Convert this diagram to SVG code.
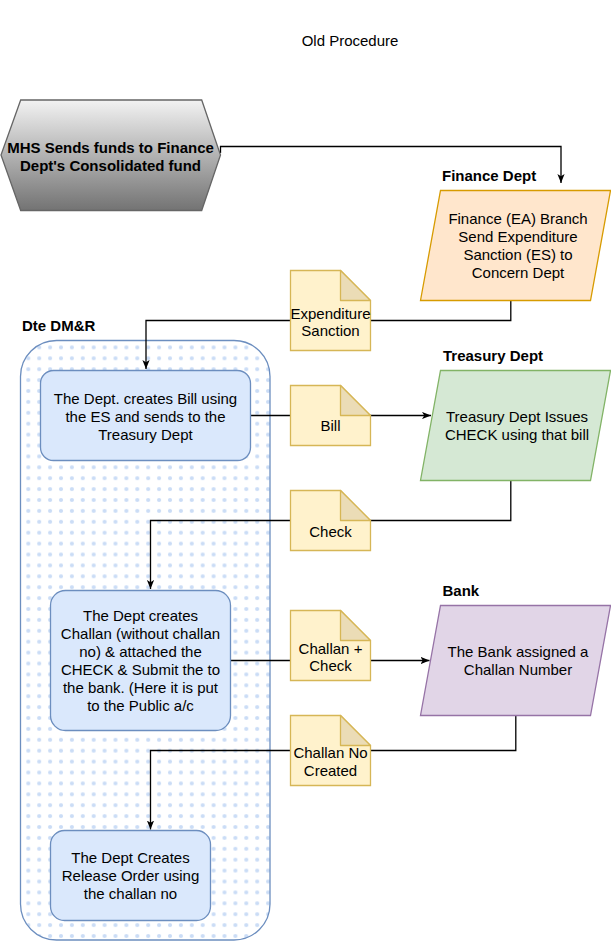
<svg xmlns="http://www.w3.org/2000/svg" width="611" height="941" viewBox="0 0 611 941">
<style>
text{font-family:"Liberation Sans",Arial,Helvetica,sans-serif;font-size:15px;fill:#000;}
.c{text-anchor:middle;}
.b{font-weight:bold;}
.conn{fill:none;stroke:#000;stroke-width:1.3;}
.note{fill:#fff2cc;stroke:#d6b656;stroke-width:1.3;}
.fold{fill:#ebdcb6;stroke:#d6b656;stroke-width:1.3;stroke-linejoin:round;}
.proc{fill:#dae8fc;stroke:#6c8ebf;stroke-width:1.3;}
</style>
<defs>
<linearGradient id="hexg" x1="0" y1="0" x2="0" y2="1">
<stop offset="0" stop-color="#f2f2f2"/>
<stop offset="1" stop-color="#737373"/>
</linearGradient>
<pattern id="dots" patternUnits="userSpaceOnUse" x="6.5" y="9.5" width="10.9" height="10.9">
<circle cx="0" cy="0" r="2.1" fill="#cadcf6"/>
<circle cx="10.9" cy="0" r="2.1" fill="#cadcf6"/>
<circle cx="0" cy="10.9" r="2.1" fill="#cadcf6"/>
<circle cx="10.9" cy="10.9" r="2.1" fill="#cadcf6"/>
</pattern>
<marker id="arr" markerUnits="userSpaceOnUse" viewBox="0 0 10 8" markerWidth="9" markerHeight="7.2" refX="10" refY="4" orient="auto">
<path d="M0,0 L10,4 L0,8 L2.5,4 Z" fill="#000"/>
</marker>
</defs>
<rect width="611" height="941" fill="#fff"/>
<text class="c" x="350" y="46">Old Procedure</text>

<g id="container-dte">
<rect x="20.5" y="340.5" width="249.5" height="599.5" rx="36" ry="36" fill="#fff"/>
<rect x="20.5" y="340.5" width="249.5" height="599.5" rx="36" ry="36" fill="url(#dots)" stroke="#6c8ebf" stroke-width="1.3"/>
<text class="b" x="22" y="331">Dte DM&amp;R</text>
</g>

<g id="connectors">
<path class="conn" d="M220.5,153 V146.5 H561 V183" marker-end="url(#arr)"/>
<path class="conn" d="M510.8,300 V320.5 H146 V369" marker-end="url(#arr)"/>
<path class="conn" d="M250.5,415.5 H431" marker-end="url(#arr)"/>
<path class="conn" d="M510.8,480 V520.5 H150.5 V589" marker-end="url(#arr)"/>
<path class="conn" d="M230.5,660.5 H429.5" marker-end="url(#arr)"/>
<path class="conn" d="M515.8,715 V750.5 H150.5 V829.5" marker-end="url(#arr)"/>
</g>

<g id="mhs">
<polygon points="20.7,100 201.7,100 220.5,155 201.7,210.5 20.7,210.5 1,155" fill="url(#hexg)" stroke="#666" stroke-width="1.3"/>
<text class="c b" x="110.5" y="152.5">MHS Sends funds to Finance</text>
<text class="c b" x="110.5" y="170.5">Dept's Consolidated fund</text>
</g>

<g id="finance">
<text class="b" x="442" y="181">Finance Dept</text>
<polygon points="440.5,190.5 610.5,190.5 590.5,300.5 420.5,300.5" fill="#ffe6cc" stroke="#d79b00" stroke-width="1.3"/>
<text class="c" x="518" y="224">Finance (EA) Branch</text>
<text class="c" x="518" y="242">Send Expenditure</text>
<text class="c" x="518" y="260">Sanction (ES) to</text>
<text class="c" x="518" y="278">Concern Dept</text>
</g>

<g id="note-es">
<path class="note" d="M290.5,270.5 H340.5 L370.5,300.5 V350.5 H290.5 Z"/>
<path class="fold" d="M340.5,270.5 V300.5 H370.5 Z"/>
<text class="c" x="330.5" y="318.5">Expenditure</text>
<text class="c" x="330.5" y="336">Sanction</text>
</g>

<g id="bill-proc">
<rect class="proc" x="40.5" y="370.5" width="210" height="90" rx="13" ry="13"/>
<text class="c" x="145.5" y="403.5">The Dept. creates Bill using</text>
<text class="c" x="145.5" y="421.5">the ES and sends to the</text>
<text class="c" x="145.5" y="439.5">Treasury Dept</text>
</g>

<g id="note-bill">
<path class="note" d="M290.5,385.5 H340.5 L370.5,415.5 V445.5 H290.5 Z"/>
<path class="fold" d="M340.5,385.5 V415.5 H370.5 Z"/>
<text class="c" x="330.5" y="431">Bill</text>
</g>

<g id="treasury">
<text class="b" x="443" y="361">Treasury Dept</text>
<polygon points="440.5,370.5 610.5,370.5 590.5,480.5 420.5,480.5" fill="#d5e8d4" stroke="#82b366" stroke-width="1.3"/>
<text class="c" x="517" y="422">Treasury Dept Issues</text>
<text class="c" x="517" y="440">CHECK using that bill</text>
</g>

<g id="note-check">
<path class="note" d="M290.5,490.5 H340.5 L370.5,520.5 V550.5 H290.5 Z"/>
<path class="fold" d="M340.5,490.5 V520.5 H370.5 Z"/>
<text class="c" x="330.5" y="537">Check</text>
</g>

<g id="challan-proc">
<rect class="proc" x="50.5" y="590.5" width="180" height="140" rx="15" ry="15"/>
<text class="c" x="140.5" y="621">The Dept creates</text>
<text class="c" x="140.5" y="639">Challan (without challan</text>
<text class="c" x="140.5" y="657">no) &amp; attached the</text>
<text class="c" x="140.5" y="675">CHECK &amp; Submit the to</text>
<text class="c" x="140.5" y="693">the bank. (Here it is put</text>
<text class="c" x="140.5" y="711">to the Public a/c</text>
</g>

<g id="note-challan-check">
<path class="note" d="M290.5,610.5 H340.5 L370.5,640.5 V680.5 H290.5 Z"/>
<path class="fold" d="M340.5,610.5 V640.5 H370.5 Z"/>
<text class="c" x="330.5" y="653.5">Challan +</text>
<text class="c" x="330.5" y="671">Check</text>
</g>

<g id="bank">
<text class="b" x="442.5" y="596">Bank</text>
<polygon points="440.5,605.5 610.5,605.5 590.5,715.5 420.5,715.5" fill="#e1d5e7" stroke="#9673a6" stroke-width="1.3"/>
<text class="c" x="518" y="657">The Bank assigned a</text>
<text class="c" x="518" y="674.5">Challan Number</text>
</g>

<g id="note-challan-no">
<path class="note" d="M290.5,715.5 H340.5 L370.5,745.5 V785.5 H290.5 Z"/>
<path class="fold" d="M340.5,715.5 V745.5 H370.5 Z"/>
<text class="c" x="330.5" y="758">Challan No</text>
<text class="c" x="330.5" y="776">Created</text>
</g>

<g id="release-proc">
<rect class="proc" x="50.5" y="830.5" width="160" height="90" rx="14" ry="14"/>
<text class="c" x="130.5" y="863">The Dept Creates</text>
<text class="c" x="130.5" y="881">Release Order using</text>
<text class="c" x="130.5" y="899">the challan no</text>
</g>
</svg>
